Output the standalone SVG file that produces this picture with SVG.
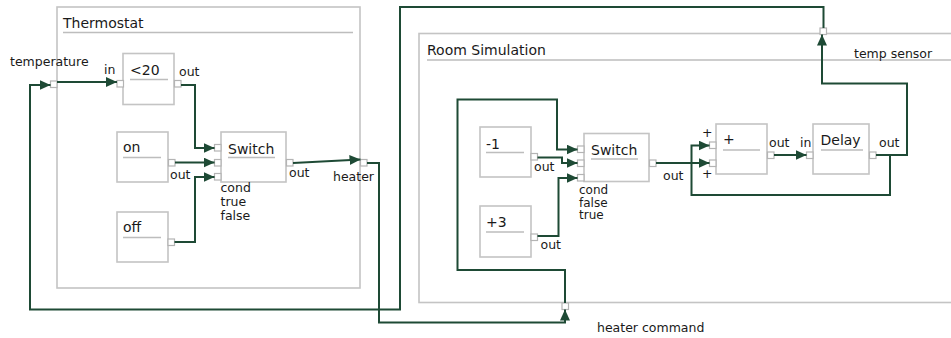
<svg xmlns="http://www.w3.org/2000/svg" width="951" height="338" viewBox="0 0 951 338">
<style>
text{font-family:"DejaVu Sans","Liberation Sans",sans-serif;fill:#1a1a1a}
.cont{fill:none;stroke:#c4c4c4;stroke-width:1.6}
.box{fill:#fff;stroke:#c4c4c4;stroke-width:1.6}
.ul{stroke:#bdbdbd;stroke-width:1.4}
.port{fill:#fff;stroke:#b4b4b4;stroke-width:1.2}
.title{font-size:14px}
.nl{font-size:14px}
.pl{font-size:12.5px}
.sl{font-size:12px}
.wire{fill:none;stroke:#1e4a35;stroke-width:2;stroke-linejoin:miter}
.arr{marker-end:url(#ah)}
</style>
<defs>
<marker id="ah" markerUnits="userSpaceOnUse" markerWidth="11" markerHeight="10" refX="11" refY="5" orient="auto">
<path d="M0,0 L11,5 L0,10 z" fill="#1e4a35"/>
</marker>
</defs>

<g id="thermostat">
<rect class="cont" x="57" y="7" width="303" height="281"/>
<text class="title" x="63" y="28">Thermostat</text>
<line class="ul" x1="63" y1="32.5" x2="353" y2="32.5"/>
<rect class="port" x="50.5" y="81" width="6.5" height="6.5"/>
<text class="pl" x="10" y="66">temperature</text>
<rect class="port" x="360.5" y="159.5" width="6.5" height="6.5"/>
<text class="pl" x="333" y="181">heater</text>
</g>

<g id="room-simulation">
<rect class="cont" x="419" y="33.5" width="560" height="269"/>
<text class="title" x="427" y="55">Room Simulation</text>
<line class="ul" x1="427" y1="60" x2="951" y2="60"/>
<rect class="port" x="820" y="28" width="6.5" height="6.5"/>
<text class="pl" x="854" y="58">temp sensor</text>
<rect class="port" x="562" y="303" width="6.5" height="6.5"/>
<text class="pl" x="597" y="332">heater command</text>
</g>

<g id="lt20">
<rect class="box" x="123" y="53.5" width="51" height="51"/>
<text class="nl" x="130" y="75">&lt;20</text>
<line class="ul" x1="130" y1="79.5" x2="168" y2="79.5"/>
<rect class="port" x="117" y="80.5" width="6.5" height="6.5"/>
<rect class="port" x="174.5" y="80.5" width="6.5" height="6.5"/>
<text class="pl" x="104" y="74">in</text>
<text class="pl" x="179" y="76">out</text>
</g>

<g id="on">
<rect class="box" x="117" y="132" width="51" height="50"/>
<text class="nl" x="123" y="152">on</text>
<line class="ul" x1="123" y1="157.5" x2="161" y2="157.5"/>
<rect class="port" x="168.5" y="159.5" width="6.5" height="6.5"/>
<text class="pl" x="170" y="178.5">out</text>
</g>

<g id="off">
<rect class="box" x="117" y="212" width="51" height="50"/>
<text class="nl" x="123" y="231.5">off</text>
<line class="ul" x1="123" y1="237.5" x2="161" y2="237.5"/>
<rect class="port" x="168" y="239" width="6.5" height="6.5"/>
</g>

<g id="switch1">
<rect class="box" x="221" y="132" width="65" height="50"/>
<text class="nl" x="228" y="153.5">Switch</text>
<line class="ul" x1="228" y1="157.5" x2="275" y2="157.5"/>
<rect class="port" x="214.5" y="144.5" width="6.5" height="6.5"/>
<rect class="port" x="214.5" y="159.5" width="6.5" height="6.5"/>
<rect class="port" x="214.5" y="173.5" width="6.5" height="6.5"/>
<rect class="port" x="286.5" y="159.5" width="6.5" height="6.5"/>
<text class="pl" x="289" y="177">out</text>
<text class="pl" x="220.5" y="191.5">cond</text>
<text class="pl" x="220.5" y="205.5">true</text>
<text class="pl" x="220.5" y="219.5">false</text>
</g>

<g id="minus1">
<rect class="box" x="480" y="127" width="51" height="50"/>
<text class="nl" x="486" y="148.5">-1</text>
<line class="ul" x1="486" y1="152.5" x2="524" y2="152.5"/>
<rect class="port" x="531" y="153.5" width="6.5" height="6.5"/>
<text class="pl" x="534" y="171">out</text>
</g>

<g id="plus3">
<rect class="box" x="480" y="206" width="51" height="51"/>
<text class="nl" x="486" y="227">+3</text>
<line class="ul" x1="486" y1="232" x2="524" y2="232"/>
<rect class="port" x="531" y="234" width="6.5" height="6.5"/>
<text class="pl" x="540.5" y="248.5">out</text>
</g>

<g id="switch2">
<rect class="box" x="584" y="133.5" width="65" height="48"/>
<text class="nl" x="591" y="154.5">Switch</text>
<line class="ul" x1="591" y1="159" x2="638" y2="159"/>
<rect class="port" x="577.5" y="146" width="6.5" height="6.5"/>
<rect class="port" x="577.5" y="160" width="6.5" height="6.5"/>
<rect class="port" x="577.5" y="174.5" width="6.5" height="6.5"/>
<rect class="port" x="649.5" y="160" width="6.5" height="6.5"/>
<text class="pl" x="663" y="180">out</text>
<text class="sl" x="579" y="194">cond</text>
<text class="sl" x="579" y="206.5">false</text>
<text class="sl" x="579" y="219">true</text>
</g>

<g id="adder">
<rect class="box" x="716" y="124" width="51" height="50"/>
<text class="nl" x="723" y="143.5">+</text>
<line class="ul" x1="723" y1="150" x2="760" y2="150"/>
<rect class="port" x="709.5" y="142" width="6.5" height="6.5"/>
<rect class="port" x="709.5" y="160" width="6.5" height="6.5"/>
<rect class="port" x="767.5" y="152" width="6.5" height="6.5"/>
<text class="pl" x="702" y="137">+</text>
<text class="pl" x="702" y="177.5">+</text>
<text class="pl" x="769" y="147">out</text>
</g>

<g id="delay">
<rect class="box" x="813" y="124" width="56" height="50"/>
<text class="nl" x="820.5" y="144.5">Delay</text>
<line class="ul" x1="821" y1="150" x2="863" y2="150"/>
<rect class="port" x="806.5" y="152" width="6.5" height="6.5"/>
<rect class="port" x="869.5" y="152" width="6.5" height="6.5"/>
<text class="pl" x="800" y="146.5">in</text>
<text class="pl" x="879" y="146.5">out</text>
</g>

<g id="connectors">
<path class="wire arr" d="M57,82 L117,82"/>
<path class="wire arr" d="M181,85 L195,85 L195,148 L214.5,148"/>
<path class="wire arr" d="M175,162.5 L214.5,162.5"/>
<path class="wire arr" d="M174.5,242 L195,242 L195,177 L214.5,177"/>
<path class="wire arr" d="M293,163 L360.5,159.5"/>
<path class="wire arr" d="M823.5,28 L823.5,7 L400,7 L400,309.5 L30,309.5 L30,85 L50.5,85"/>
<path class="wire arr" d="M367,163 L379,163 L379,322.5 L565,322.5 L565,309.5"/>
<path class="wire arr" d="M565,303 L565,270 L457.5,270 L457.5,99.5 L557,99.5 L557,149.5 L577.5,149.5"/>
<path class="wire arr" d="M537.5,157.5 L562,157.5 L562,163 L577.5,163"/>
<path class="wire arr" d="M537.5,236 L558.5,236 L558.5,178 L577.5,178"/>
<path class="wire arr" d="M656,163 L709.5,163"/>
<path class="wire arr" d="M774,155 L806.5,155"/>
<path class="wire arr" d="M876,155 L890,155 L890,195 L691.5,195 L691.5,145.5 L709.5,145.5"/>
<path class="wire arr" d="M876,155 L907,155 L907,83.5 L822,83.5 L822,34.5"/>
</g>
</svg>
